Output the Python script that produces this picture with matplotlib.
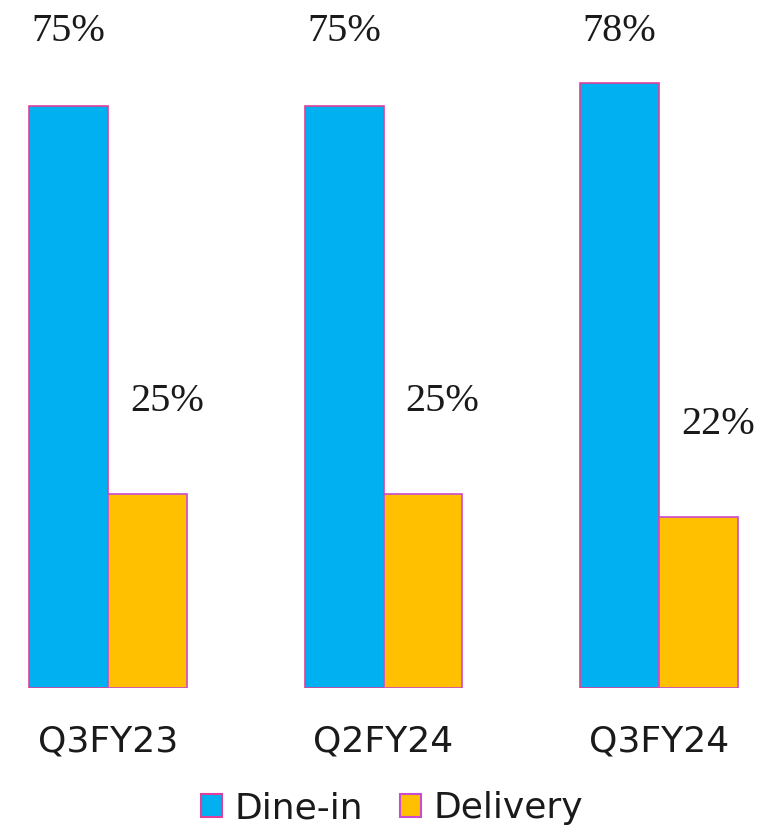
import numpy as np
from matplotlib import pyplot as plt
from matplotlib.patches import Patch

categories = ['Q3FY23', 'Q2FY24', 'Q3FY24']
dine_in = [75, 75, 78]
delivery = [25, 25, 22]
series_names = ['Dine-in', 'Delivery']

blue = '#00B0F0'
orange = '#FFC000'
blue_edge = '#E0409A'
orange_edge = '#C84BD0'

def main():
    fig = plt.figure(figsize=(7.84, 8.31), dpi=100)
    ax = fig.add_axes([0, 143 / 831, 1, 688 / 831])

    x = np.arange(len(categories))
    width = 0.285

    ax.bar(x - width / 2, dine_in, width, color=blue, edgecolor=blue_edge, linewidth=1.2)
    ax.bar(x + width / 2, delivery, width, color=orange, edgecolor=orange_edge, linewidth=1.2)

    ax.set_xlim(-108 / 275.5, (784 - 108) / 275.5)
    ax.set_ylim(0, 688 / 7.76)

    # value labels, dine-in ones sit along the top
    for xi, v in zip(x, dine_in):
        ax.text(xi - width / 2, 0.94, '%d%%' % v, transform=ax.get_xaxis_transform(),
                ha='center', va='baseline', fontsize=29, family='Liberation Serif',
                color='#1a1a1a')
    for xi, v in zip(x, delivery):
        ax.annotate('%d%%' % v, (xi + width / 2, v), xytext=(14, 60),
                    textcoords='offset points', ha='center', va='baseline',
                    fontsize=29, family='Liberation Serif', color='#1a1a1a')

    ax.set_xticks(x)
    ax.set_xticklabels(categories, fontsize=26, color='#1a1a1a')
    ax.tick_params(axis='x', length=0, pad=26)
    ax.set_yticks([])
    for s in ax.spines.values():
        s.set_visible(False)

    handles = [Patch(facecolor=blue, edgecolor=blue_edge, linewidth=1.5),
               Patch(facecolor=orange, edgecolor=orange_edge, linewidth=1.5)]
    fig.legend(handles, series_names, loc='lower center', bbox_to_anchor=(0.5, -0.032),
               ncol=2, frameon=False, fontsize=26, handlelength=0.6, handleheight=0.6,
               handletextpad=0.35, columnspacing=1.0, labelcolor='#1a1a1a')

    fig.savefig('out.png', dpi=100)
    return 0

if __name__ == '__main__':
    exit(main())
